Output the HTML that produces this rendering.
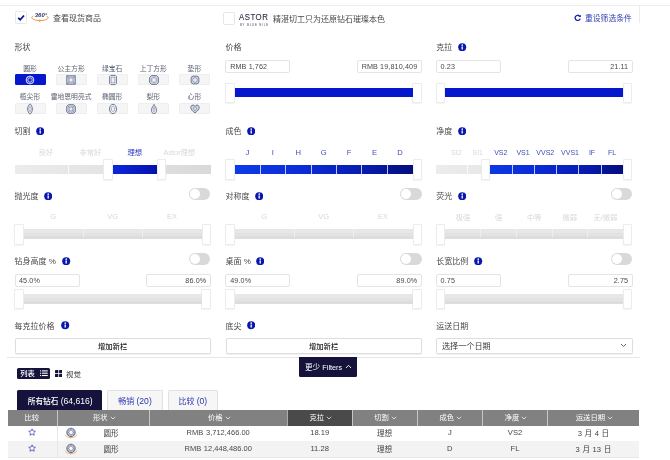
<!DOCTYPE html>
<html lang="zh-CN"><head><meta charset="utf-8"><title>钻石搜索</title>
<style>
html,body{margin:0;padding:0;background:#fff;}
body{width:670px;height:460px;overflow:hidden;position:relative;font-family:"Liberation Sans","Noto Sans CJK SC",sans-serif;}
.a,.t,div.inp{position:absolute;box-sizing:border-box;}
.t{white-space:nowrap;}
.h{width:9.2px;height:20.6px;background:#fff;border:0.6px solid #ececec;border-radius:1px;box-shadow:0 0.5px 1px rgba(0,0,0,0.05);}
.inp{height:13.1px;border:0.7px solid #e4e4e4;border-radius:2px;font-size:7.2px;line-height:11.8px;color:#484848;letter-spacing:0.12px;background:#fff;white-space:nowrap;}
.sb{position:absolute;width:31px;height:11.2px;background:#f5f5f5;border-radius:1px;border:0.6px solid #eeeeee;box-sizing:border-box;}
.sb svg{position:absolute;left:9.9px;top:0px;overflow:visible;}
</style></head><body>

<div class="a" style="left:0px;top:4.6px;width:670px;height:0.8px;background:#ececec"></div>
<div class="a" style="left:638.8px;top:5px;width:0.8px;height:17.5px;background:#ececec"></div>
<div class="a" style="left:15px;top:11.4px;width:12px;height:12.6px;border:0.7px solid #e8e8e8;border-radius:1.5px;background:#fff"><svg class="a" style="left:0.7px;top:1.8px" width="8.3" height="7.4" viewBox="0 0 9 8"><path d="M1.3 4.1 L3.5 6.2 L7.6 1.6" fill="none" stroke="#0a1098" stroke-width="1.9"/></svg></div>
<svg class="a" style="left:30px;top:11px" width="20" height="12" viewBox="0 0 20 12"><text x="11" y="6.2" font-size="6" font-weight="bold" font-style="italic" text-anchor="middle" fill="#2d3472" font-family="Liberation Sans, sans-serif">360°</text><path d="M3.4 5.1 C-0.6 6.8 3.6 9.6 10 9.6 C16.4 9.6 20.6 6.8 16.6 5.1" fill="none" stroke="#e8873a" stroke-width="0.9"/><path d="M9 8.6 L10.6 9.6 L9 10.6" fill="none" stroke="#e8873a" stroke-width="0.7"/></svg>
<div class="t" style="top:13.10px;line-height:12px;font-size:8px;color:#484848;left:53px;">查看现货商品</div>
<div class="a" style="left:223.2px;top:12.4px;width:11.8px;height:12.4px;border:0.7px solid #e6e6e6;border-radius:1.5px;background:#fff"></div>
<div class="t" style="top:10.90px;line-height:12px;font-size:9.2px;color:#2a2d44;left:239px;letter-spacing:0.6px;transform:scaleX(0.85);transform-origin:0 50%;-webkit-text-stroke:0.12px #2a2d44;">ASTOR</div>
<div class="t" style="top:19.10px;line-height:12px;font-size:2.8px;color:#3a3d55;left:154.4px;width:200px;text-align:center;letter-spacing:0.85px;">BY BLUE NILE</div>
<div class="t" style="top:14.10px;line-height:12px;font-size:8px;color:#484848;left:273px;">精湛切工只为还原钻石璀璨本色</div>
<svg class="a" style="left:573.9px;top:13.6px" width="7.8" height="7.8" viewBox="0 0 9 9"><path d="M7.2 5.3 A3 3 0 1 1 6.4 2.3" fill="none" stroke="#1423a8" stroke-width="1.5"/><path d="M5.2 3.6 L7.9 3.6 L7.9 0.9 Z" fill="#1423a8"/></svg>
<div class="t" style="top:13.10px;line-height:12px;font-size:7.8px;color:#3440b4;left:585px;">重设筛选条件</div>
<div class="t" style="top:42.10px;line-height:12px;font-size:8px;color:#484848;left:14.6px;">形状</div>
<div class="t" style="top:42.10px;line-height:12px;font-size:8px;color:#484848;left:225.6px;">价格</div>
<div class="t" style="top:42.10px;line-height:12px;font-size:8px;color:#484848;left:436.2px;">克拉</div>
<svg class="a" style="left:458.2px;top:42.7px" width="8.4" height="8.4" viewBox="0 0 9 9"><circle cx="4.5" cy="4.5" r="4.3" fill="#0a17ac"/><rect x="3.8" y="3.7" width="1.4" height="3.3" fill="#fff"/><circle cx="4.5" cy="2.3" r="0.85" fill="#fff"/></svg>
<div class="t" style="top:62.50px;line-height:12px;font-size:6.8px;color:#5c6070;left:-70.0px;width:200px;text-align:center;">圆形</div>
<div class="sb" style="left:14.5px;top:74.2px;background:#0618cc;border-color:#0618cc;"><svg width="10" height="10" viewBox="0 0 10 10" fill="none" stroke="#e8eaff" stroke-width="0.85"><circle cx="5" cy="5" r="3.9" fill="#3a48d8"/><circle cx="5" cy="5" r="2" fill="#2030d0" stroke-width="0.5"/><path d="M5 1.1 L5 3 M5 7 L5 8.9 M1.1 5 L3 5 M7 5 L8.9 5 M2.3 2.3 L3.6 3.6 M7.7 2.3 L6.4 3.6 M2.3 7.7 L3.6 6.4 M7.7 7.7 L6.4 6.4" stroke-width="0.45"/></svg></div>
<div class="t" style="top:62.50px;line-height:12px;font-size:6.8px;color:#5c6070;left:-28.900000000000006px;width:200px;text-align:center;">公主方形</div>
<div class="sb" style="left:55.6px;top:74.2px;"><svg width="10" height="10" viewBox="0 0 10 10" fill="none" stroke="#5c6684" stroke-width="0.85"><rect x="0.8" y="0.8" width="8.4" height="8.4" fill="#cdd2e0"/><rect x="3" y="3" width="4" height="4" fill="#eceef4" stroke-width="0.5"/><path d="M0.8 0.8 L3 3 M9.2 0.8 L7 3 M0.8 9.2 L3 7 M9.2 9.2 L7 7" stroke-width="0.5"/></svg></div>
<div class="t" style="top:62.50px;line-height:12px;font-size:6.8px;color:#5c6070;left:12.200000000000003px;width:200px;text-align:center;">绿宝石</div>
<div class="sb" style="left:96.7px;top:74.2px;"><svg width="10" height="10" viewBox="0 0 10 10" fill="none" stroke="#5c6684" stroke-width="0.85"><path d="M2.8 0.4 L7.2 0.4 L8.4 1.6 L8.4 8.4 L7.2 9.6 L2.8 9.6 L1.6 8.4 L1.6 1.6 Z" fill="#eceef4"/><rect x="3.1" y="2.1" width="3.8" height="5.8" stroke-width="0.4" fill="#eceef4"/></svg></div>
<div class="t" style="top:62.50px;line-height:12px;font-size:6.8px;color:#5c6070;left:53.30000000000001px;width:200px;text-align:center;">上丁方形</div>
<div class="sb" style="left:137.8px;top:74.2px;"><svg width="10" height="10" viewBox="0 0 10 10" fill="none" stroke="#5c6684" stroke-width="0.85"><path d="M2.4 0.6 L7.6 0.6 L9.4 2.4 L9.4 7.6 L7.6 9.4 L2.4 9.4 L0.6 7.6 L0.6 2.4 Z" fill="#cdd2e0"/><path d="M3.7 2.8 L6.3 2.8 L7.2 3.7 L7.2 6.3 L6.3 7.2 L3.7 7.2 L2.8 6.3 L2.8 3.7 Z" fill="#eceef4" stroke-width="0.5"/></svg></div>
<div class="t" style="top:62.50px;line-height:12px;font-size:6.8px;color:#5c6070;left:94.4px;width:200px;text-align:center;">垫形</div>
<div class="sb" style="left:178.9px;top:74.2px;"><svg width="10" height="10" viewBox="0 0 10 10" fill="none" stroke="#5c6684" stroke-width="0.85"><rect x="1.1" y="1.1" width="7.8" height="7.8" rx="2.4" fill="#cdd2e0"/><path d="M5 2.7 L6.6 3.4 L7.3 5 L6.6 6.6 L5 7.3 L3.4 6.6 L2.7 5 L3.4 3.4 Z" fill="#eceef4" stroke-width="0.5"/></svg></div>
<div class="t" style="top:91.30px;line-height:12px;font-size:6.8px;color:#5c6070;left:-70.0px;width:200px;text-align:center;">榄尖形</div>
<div class="sb" style="left:14.5px;top:102.6px;"><svg width="10" height="10" viewBox="0 0 10 10" fill="none" stroke="#5c6684" stroke-width="0.85"><path d="M5 -0.2 C8.2 2.6 8.2 7.4 5 10.2 C1.8 7.4 1.8 2.6 5 -0.2 Z" fill="#eceef4"/><path d="M5 2.2 L6.4 5 L5 7.8 L3.6 5 Z" stroke-width="0.4" fill="#eceef4"/></svg></div>
<div class="t" style="top:91.30px;line-height:12px;font-size:6.8px;color:#5c6070;left:-28.900000000000006px;width:200px;text-align:center;">雷地恩明亮式</div>
<div class="sb" style="left:55.6px;top:102.6px;"><svg width="10" height="10" viewBox="0 0 10 10" fill="none" stroke="#5c6684" stroke-width="0.85"><path d="M2.4 0.7 L7.6 0.7 L9.3 2.4 L9.3 7.6 L7.6 9.3 L2.4 9.3 L0.7 7.6 L0.7 2.4 Z" fill="#cdd2e0"/><rect x="3.1" y="3.1" width="3.8" height="3.8" fill="#eceef4" stroke-width="0.5"/><path d="M3.1 3.1 L1.6 1.6 M6.9 3.1 L8.4 1.6 M3.1 6.9 L1.6 8.4 M6.9 6.9 L8.4 8.4" stroke-width="0.5"/></svg></div>
<div class="t" style="top:91.30px;line-height:12px;font-size:6.8px;color:#5c6070;left:12.200000000000003px;width:200px;text-align:center;">椭圆形</div>
<div class="sb" style="left:96.7px;top:102.6px;"><svg width="10" height="10" viewBox="0 0 10 10" fill="none" stroke="#5c6684" stroke-width="0.85"><ellipse cx="5" cy="5" rx="3.5" ry="4.7" fill="#eceef4"/><path d="M5 2.1 L6.6 3.6 L6.6 6.4 L5 7.9 L3.4 6.4 L3.4 3.6 Z" stroke-width="0.4" fill="#eceef4"/></svg></div>
<div class="t" style="top:91.30px;line-height:12px;font-size:6.8px;color:#5c6070;left:53.30000000000001px;width:200px;text-align:center;">梨形</div>
<div class="sb" style="left:137.8px;top:102.6px;"><svg width="10" height="10" viewBox="0 0 10 10" fill="none" stroke="#5c6684" stroke-width="0.85"><path d="M5 0.4 C6 2.2 7.6 4.2 7.6 6.4 C7.6 8.3 6.4 9.6 5 9.6 C3.6 9.6 2.4 8.3 2.4 6.4 C2.4 4.2 4 2.2 5 0.4 Z" fill="#eceef4"/><path d="M5 3 L6.1 6 L5 8 L3.9 6 Z" stroke-width="0.4" fill="#eceef4"/></svg></div>
<div class="t" style="top:91.30px;line-height:12px;font-size:6.8px;color:#5c6070;left:94.4px;width:200px;text-align:center;">心形</div>
<div class="sb" style="left:178.9px;top:102.6px;"><svg width="10" height="10" viewBox="0 0 10 10" fill="none" stroke="#5c6684" stroke-width="0.85"><path d="M5 9 C2.3 6.9 0.8 5.2 0.8 3.5 C0.8 2 1.8 1.1 3 1.1 C3.9 1.1 4.6 1.6 5 2.4 C5.4 1.6 6.1 1.1 7 1.1 C8.2 1.1 9.2 2 9.2 3.5 C9.2 5.2 7.7 6.9 5 9 Z" fill="#cdd2e0"/><path d="M5 3.6 L6.8 4 L5 7 L3.2 4 Z" stroke-width="0.45" fill="#eceef4"/></svg></div>
<div class="a inp" style="left:225.2px;top:60.1px;width:65px;padding-left:4px;">RMB 1,762</div>
<div class="a inp" style="left:356.6px;top:60.1px;width:65px;padding-right:3.3px;text-align:right;">RMB 19,810,409</div>
<div class="a h" style="left:225.4px;top:82.8px;"></div>
<div class="a h" style="left:412.40000000000003px;top:82.8px;"></div>
<div class="a" style="left:234.6px;top:88.0px;width:178px;height:9.1px;background:#0618cc;"></div>
<div class="a inp" style="left:436.2px;top:60.1px;width:64.5px;padding-left:3.4px;">0.23</div>
<div class="a inp" style="left:568px;top:60.1px;width:64.5px;padding-right:3.3px;text-align:right;">21.11</div>
<div class="a h" style="left:436.0px;top:82.8px;"></div>
<div class="a h" style="left:623.0px;top:82.8px;"></div>
<div class="a" style="left:445.2px;top:88.0px;width:178px;height:9.1px;background:#0618cc;"></div>
<div class="t" style="top:126.40px;line-height:12px;font-size:8px;color:#484848;left:14.6px;">切割</div>
<svg class="a" style="left:35.7px;top:127.0px" width="8.4" height="8.4" viewBox="0 0 9 9"><circle cx="4.5" cy="4.5" r="4.3" fill="#0a17ac"/><rect x="3.8" y="3.7" width="1.4" height="3.3" fill="#fff"/><circle cx="4.5" cy="2.3" r="0.85" fill="#fff"/></svg>
<div class="t" style="top:126.40px;line-height:12px;font-size:8px;color:#484848;left:225.6px;">成色</div>
<svg class="a" style="left:246.7px;top:127.0px" width="8.4" height="8.4" viewBox="0 0 9 9"><circle cx="4.5" cy="4.5" r="4.3" fill="#0a17ac"/><rect x="3.8" y="3.7" width="1.4" height="3.3" fill="#fff"/><circle cx="4.5" cy="2.3" r="0.85" fill="#fff"/></svg>
<div class="t" style="top:126.40px;line-height:12px;font-size:8px;color:#484848;left:436.2px;">净度</div>
<svg class="a" style="left:457.7px;top:127.0px" width="8.4" height="8.4" viewBox="0 0 9 9"><circle cx="4.5" cy="4.5" r="4.3" fill="#0a17ac"/><rect x="3.8" y="3.7" width="1.4" height="3.3" fill="#fff"/><circle cx="4.5" cy="2.3" r="0.85" fill="#fff"/></svg>
<div class="t" style="top:147.10px;line-height:12px;font-size:7.3px;color:#d8d8d8;left:-54.15px;width:200px;text-align:center;">良好</div>
<div class="t" style="top:147.10px;line-height:12px;font-size:7.3px;color:#d8d8d8;left:-9.650000000000006px;width:200px;text-align:center;">非常好</div>
<div class="t" style="top:147.10px;line-height:12px;font-size:7.3px;color:#2c38bc;left:34.849999999999994px;width:200px;text-align:center;">理想</div>
<div class="t" style="top:147.10px;line-height:12px;font-size:7.3px;color:#d8d8d8;left:79.35px;width:200px;text-align:center;">Astor理想</div>
<div class="a" style="left:14.6px;top:164.5px;width:196px;height:9.1px;background:linear-gradient(90deg,#ececec,#d9d9d9);"></div>
<div class="a" style="left:112.60px;top:164.5px;width:44.50px;height:9.1px;background:linear-gradient(90deg,#0a26dc,#0513ac);"></div>
<div class="a" style="left:67.75px;top:164.5px;width:0.7px;height:9.1px;background:rgba(255,255,255,0.75);"></div>
<div class="a" style="left:112.25px;top:164.5px;width:0.7px;height:9.1px;background:rgba(255,255,255,0.75);"></div>
<div class="a" style="left:156.75px;top:164.5px;width:0.7px;height:9.1px;background:rgba(255,255,255,0.75);"></div>
<div class="a h" style="left:103.39999999999999px;top:159.3px;"></div>
<div class="a h" style="left:157.1px;top:159.3px;"></div>
<div class="t" style="top:146.50px;line-height:12px;font-size:7.6px;color:#414cb8;left:147.31428571428572px;width:200px;text-align:center;">J</div>
<div class="t" style="top:146.50px;line-height:12px;font-size:7.6px;color:#414cb8;left:172.74285714285713px;width:200px;text-align:center;">I</div>
<div class="t" style="top:146.50px;line-height:12px;font-size:7.6px;color:#414cb8;left:198.17142857142858px;width:200px;text-align:center;">H</div>
<div class="t" style="top:146.50px;line-height:12px;font-size:7.6px;color:#414cb8;left:223.60000000000002px;width:200px;text-align:center;">G</div>
<div class="t" style="top:146.50px;line-height:12px;font-size:7.6px;color:#414cb8;left:249.0285714285714px;width:200px;text-align:center;">F</div>
<div class="t" style="top:146.50px;line-height:12px;font-size:7.6px;color:#414cb8;left:274.45714285714286px;width:200px;text-align:center;">E</div>
<div class="t" style="top:146.50px;line-height:12px;font-size:7.6px;color:#414cb8;left:299.88571428571424px;width:200px;text-align:center;">D</div>
<div class="a" style="left:225.6px;top:164.5px;width:196px;height:9.1px;background:linear-gradient(90deg,#ececec,#d9d9d9);"></div>
<div class="a" style="left:234.60px;top:164.5px;width:178.00px;height:9.1px;background:linear-gradient(90deg,#0c3ce8,#0a2cd8 38%,#0719aa 76%,#040e7c);"></div>
<div class="a" style="left:259.68px;top:164.5px;width:0.7px;height:9.1px;background:rgba(255,255,255,0.75);"></div>
<div class="a" style="left:285.11px;top:164.5px;width:0.7px;height:9.1px;background:rgba(255,255,255,0.75);"></div>
<div class="a" style="left:310.54px;top:164.5px;width:0.7px;height:9.1px;background:rgba(255,255,255,0.75);"></div>
<div class="a" style="left:335.96px;top:164.5px;width:0.7px;height:9.1px;background:rgba(255,255,255,0.75);"></div>
<div class="a" style="left:361.39px;top:164.5px;width:0.7px;height:9.1px;background:rgba(255,255,255,0.75);"></div>
<div class="a" style="left:386.82px;top:164.5px;width:0.7px;height:9.1px;background:rgba(255,255,255,0.75);"></div>
<div class="a h" style="left:225.4px;top:159.3px;"></div>
<div class="a h" style="left:412.6px;top:159.3px;"></div>
<div class="t" style="top:146.50px;line-height:12px;font-size:7px;color:#d8d8d8;left:356.325px;width:200px;text-align:center;">SI2</div>
<div class="t" style="top:146.50px;line-height:12px;font-size:7px;color:#d8d8d8;left:377.775px;width:200px;text-align:center;">SI1</div>
<div class="t" style="top:146.50px;line-height:12px;font-size:7px;color:#414cb8;left:400.825px;width:200px;text-align:center;">VS2</div>
<div class="t" style="top:146.50px;line-height:12px;font-size:7px;color:#414cb8;left:423.07500000000005px;width:200px;text-align:center;">VS1</div>
<div class="t" style="top:146.50px;line-height:12px;font-size:7px;color:#414cb8;left:445.32500000000005px;width:200px;text-align:center;">VVS2</div>
<div class="t" style="top:146.50px;line-height:12px;font-size:7px;color:#414cb8;left:470.07500000000005px;width:200px;text-align:center;">VVS1</div>
<div class="t" style="top:146.50px;line-height:12px;font-size:7px;color:#414cb8;left:492.0250000000001px;width:200px;text-align:center;">IF</div>
<div class="t" style="top:146.50px;line-height:12px;font-size:7px;color:#414cb8;left:512.075px;width:200px;text-align:center;">FL</div>
<div class="a" style="left:436.2px;top:164.5px;width:196px;height:9.1px;background:linear-gradient(90deg,#ececec,#d9d9d9);"></div>
<div class="a" style="left:489.70px;top:164.5px;width:133.50px;height:9.1px;background:linear-gradient(90deg,#0c38e6,#0a2ad4 38%,#0719aa 76%,#040e7c);"></div>
<div class="a" style="left:467.10px;top:164.5px;width:0.7px;height:9.1px;background:rgba(255,255,255,0.75);"></div>
<div class="a" style="left:489.35px;top:164.5px;width:0.7px;height:9.1px;background:rgba(255,255,255,0.75);"></div>
<div class="a" style="left:511.60px;top:164.5px;width:0.7px;height:9.1px;background:rgba(255,255,255,0.75);"></div>
<div class="a" style="left:533.85px;top:164.5px;width:0.7px;height:9.1px;background:rgba(255,255,255,0.75);"></div>
<div class="a" style="left:556.10px;top:164.5px;width:0.7px;height:9.1px;background:rgba(255,255,255,0.75);"></div>
<div class="a" style="left:578.35px;top:164.5px;width:0.7px;height:9.1px;background:rgba(255,255,255,0.75);"></div>
<div class="a" style="left:600.60px;top:164.5px;width:0.7px;height:9.1px;background:rgba(255,255,255,0.75);"></div>
<div class="a h" style="left:480.5px;top:159.3px;"></div>
<div class="a h" style="left:623.2px;top:159.3px;"></div>
<div class="t" style="top:191.30px;line-height:12px;font-size:8px;color:#484848;left:14.6px;">抛光度</div>
<svg class="a" style="left:44.0px;top:191.9px" width="8.4" height="8.4" viewBox="0 0 9 9"><circle cx="4.5" cy="4.5" r="4.3" fill="#0a17ac"/><rect x="3.8" y="3.7" width="1.4" height="3.3" fill="#fff"/><circle cx="4.5" cy="2.3" r="0.85" fill="#fff"/></svg>
<div class="a" style="left:188.8px;top:188px;width:21.5px;height:12px;border-radius:6px;background:#d9d9d9;"><div class="a" style="left:1px;top:1px;width:10px;height:10px;border-radius:5px;background:#fff"></div></div>
<div class="t" style="top:191.30px;line-height:12px;font-size:8px;color:#484848;left:225.6px;">对称度</div>
<svg class="a" style="left:255.0px;top:191.9px" width="8.4" height="8.4" viewBox="0 0 9 9"><circle cx="4.5" cy="4.5" r="4.3" fill="#0a17ac"/><rect x="3.8" y="3.7" width="1.4" height="3.3" fill="#fff"/><circle cx="4.5" cy="2.3" r="0.85" fill="#fff"/></svg>
<div class="a" style="left:400px;top:188px;width:21.5px;height:12px;border-radius:6px;background:#d9d9d9;"><div class="a" style="left:1px;top:1px;width:10px;height:10px;border-radius:5px;background:#fff"></div></div>
<div class="t" style="top:191.30px;line-height:12px;font-size:8px;color:#484848;left:436.2px;">荧光</div>
<svg class="a" style="left:457.7px;top:191.9px" width="8.4" height="8.4" viewBox="0 0 9 9"><circle cx="4.5" cy="4.5" r="4.3" fill="#0a17ac"/><rect x="3.8" y="3.7" width="1.4" height="3.3" fill="#fff"/><circle cx="4.5" cy="2.3" r="0.85" fill="#fff"/></svg>
<div class="a" style="left:610.5px;top:188px;width:21.5px;height:12px;border-radius:6px;background:#d9d9d9;"><div class="a" style="left:1px;top:1px;width:10px;height:10px;border-radius:5px;background:#fff"></div></div>
<div class="t" style="top:211.30px;line-height:12px;font-size:7.5px;color:#d8d8d8;left:-46.733333333333334px;width:200px;text-align:center;">G</div>
<div class="t" style="top:211.30px;line-height:12px;font-size:7.5px;color:#d8d8d8;left:12.599999999999994px;width:200px;text-align:center;">VG</div>
<div class="t" style="top:211.30px;line-height:12px;font-size:7.5px;color:#d8d8d8;left:71.93333333333334px;width:200px;text-align:center;">EX</div>
<div class="t" style="top:211.30px;line-height:12px;font-size:7.5px;color:#d8d8d8;left:164.26666666666665px;width:200px;text-align:center;">G</div>
<div class="t" style="top:211.30px;line-height:12px;font-size:7.5px;color:#d8d8d8;left:223.60000000000002px;width:200px;text-align:center;">VG</div>
<div class="t" style="top:211.30px;line-height:12px;font-size:7.5px;color:#d8d8d8;left:282.93333333333334px;width:200px;text-align:center;">EX</div>
<div class="t" style="top:211.90px;line-height:12px;font-size:7.3px;color:#d8d8d8;left:363.0px;width:200px;text-align:center;">极强</div>
<div class="t" style="top:211.90px;line-height:12px;font-size:7.3px;color:#d8d8d8;left:398.6px;width:200px;text-align:center;">强</div>
<div class="t" style="top:211.90px;line-height:12px;font-size:7.3px;color:#d8d8d8;left:434.20000000000005px;width:200px;text-align:center;">中等</div>
<div class="t" style="top:211.90px;line-height:12px;font-size:7.3px;color:#d8d8d8;left:469.79999999999995px;width:200px;text-align:center;">微弱</div>
<div class="t" style="top:211.90px;line-height:12px;font-size:7.3px;color:#d8d8d8;left:505.4px;width:200px;text-align:center;">无/微弱</div>
<div class="a" style="left:14.6px;top:229.2px;width:196px;height:9.6px;background:linear-gradient(#e7e7e7 0 30%,#e8e8e8 30% 38%,#e2e2e2 38% 64%,#e4e4e4 64% 72%,#dddddd 72%);"></div>
<div class="a" style="left:82.58px;top:229.2px;width:0.7px;height:9.1px;background:rgba(255,255,255,0.4);"></div>
<div class="a" style="left:141.92px;top:229.2px;width:0.7px;height:9.1px;background:rgba(255,255,255,0.4);"></div>
<div class="a h" style="left:14.400000000000002px;top:224px;"></div>
<div class="a h" style="left:201.6px;top:224px;"></div>
<div class="a" style="left:225.6px;top:229.2px;width:196px;height:9.6px;background:linear-gradient(#e7e7e7 0 30%,#e8e8e8 30% 38%,#e2e2e2 38% 64%,#e4e4e4 64% 72%,#dddddd 72%);"></div>
<div class="a" style="left:293.58px;top:229.2px;width:0.7px;height:9.1px;background:rgba(255,255,255,0.4);"></div>
<div class="a" style="left:352.92px;top:229.2px;width:0.7px;height:9.1px;background:rgba(255,255,255,0.4);"></div>
<div class="a h" style="left:225.4px;top:224px;"></div>
<div class="a h" style="left:412.6px;top:224px;"></div>
<div class="a" style="left:436.2px;top:229.2px;width:196px;height:9.6px;background:linear-gradient(#e7e7e7 0 30%,#e8e8e8 30% 38%,#e2e2e2 38% 64%,#e4e4e4 64% 72%,#dddddd 72%);"></div>
<div class="a" style="left:480.45px;top:229.2px;width:0.7px;height:9.1px;background:rgba(255,255,255,0.4);"></div>
<div class="a" style="left:516.05px;top:229.2px;width:0.7px;height:9.1px;background:rgba(255,255,255,0.4);"></div>
<div class="a" style="left:551.65px;top:229.2px;width:0.7px;height:9.1px;background:rgba(255,255,255,0.4);"></div>
<div class="a" style="left:587.25px;top:229.2px;width:0.7px;height:9.1px;background:rgba(255,255,255,0.4);"></div>
<div class="a h" style="left:436.0px;top:224px;"></div>
<div class="a h" style="left:623.2px;top:224px;"></div>
<div class="t" style="top:256.30px;line-height:12px;font-size:8px;color:#484848;left:14.6px;">钻身高度 %</div>
<svg class="a" style="left:62.3px;top:256.9px" width="8.4" height="8.4" viewBox="0 0 9 9"><circle cx="4.5" cy="4.5" r="4.3" fill="#0a17ac"/><rect x="3.8" y="3.7" width="1.4" height="3.3" fill="#fff"/><circle cx="4.5" cy="2.3" r="0.85" fill="#fff"/></svg>
<div class="a" style="left:188.8px;top:253px;width:21.5px;height:12px;border-radius:6px;background:#d9d9d9;"><div class="a" style="left:1px;top:1px;width:10px;height:10px;border-radius:5px;background:#fff"></div></div>
<div class="t" style="top:256.30px;line-height:12px;font-size:8px;color:#484848;left:225.6px;">桌面 %</div>
<svg class="a" style="left:256.0px;top:256.9px" width="8.4" height="8.4" viewBox="0 0 9 9"><circle cx="4.5" cy="4.5" r="4.3" fill="#0a17ac"/><rect x="3.8" y="3.7" width="1.4" height="3.3" fill="#fff"/><circle cx="4.5" cy="2.3" r="0.85" fill="#fff"/></svg>
<div class="a" style="left:400px;top:253px;width:21.5px;height:12px;border-radius:6px;background:#d9d9d9;"><div class="a" style="left:1px;top:1px;width:10px;height:10px;border-radius:5px;background:#fff"></div></div>
<div class="t" style="top:256.30px;line-height:12px;font-size:8px;color:#484848;left:436.2px;">长宽比例</div>
<svg class="a" style="left:474.2px;top:256.9px" width="8.4" height="8.4" viewBox="0 0 9 9"><circle cx="4.5" cy="4.5" r="4.3" fill="#0a17ac"/><rect x="3.8" y="3.7" width="1.4" height="3.3" fill="#fff"/><circle cx="4.5" cy="2.3" r="0.85" fill="#fff"/></svg>
<div class="a" style="left:610.5px;top:253px;width:21.5px;height:12px;border-radius:6px;background:#d9d9d9;"><div class="a" style="left:1px;top:1px;width:10px;height:10px;border-radius:5px;background:#fff"></div></div>
<div class="a inp" style="left:14.6px;top:273.5px;width:65px;padding-left:3.4px;">45.0%</div>
<div class="a inp" style="left:145.6px;top:273.5px;width:65px;padding-right:3.3px;text-align:right;">86.0%</div>
<div class="a inp" style="left:225.2px;top:273.5px;width:65px;padding-left:4px;">49.0%</div>
<div class="a inp" style="left:356.6px;top:273.5px;width:65px;padding-right:3.3px;text-align:right;">89.0%</div>
<div class="a inp" style="left:436.2px;top:273.5px;width:64.5px;padding-left:3.4px;">0.75</div>
<div class="a inp" style="left:568px;top:273.5px;width:64.5px;padding-right:3.3px;text-align:right;">2.75</div>
<div class="a h" style="left:14.4px;top:288.8px;"></div>
<div class="a h" style="left:201.4px;top:288.8px;"></div>
<div class="a" style="left:23.6px;top:294.0px;width:178px;height:9.6px;background:linear-gradient(#e7e7e7 0 30%,#e8e8e8 30% 38%,#e2e2e2 38% 64%,#e4e4e4 64% 72%,#dddddd 72%);"></div>
<div class="a h" style="left:225.4px;top:288.8px;"></div>
<div class="a h" style="left:412.40000000000003px;top:288.8px;"></div>
<div class="a" style="left:234.6px;top:294.0px;width:178px;height:9.6px;background:linear-gradient(#e7e7e7 0 30%,#e8e8e8 30% 38%,#e2e2e2 38% 64%,#e4e4e4 64% 72%,#dddddd 72%);"></div>
<div class="a h" style="left:436.0px;top:288.8px;"></div>
<div class="a h" style="left:623.0px;top:288.8px;"></div>
<div class="a" style="left:445.2px;top:294.0px;width:178px;height:9.6px;background:linear-gradient(#e7e7e7 0 30%,#e8e8e8 30% 38%,#e2e2e2 38% 64%,#e4e4e4 64% 72%,#dddddd 72%);"></div>
<div class="t" style="top:320.70px;line-height:12px;font-size:8px;color:#484848;left:14.6px;">每克拉价格</div>
<svg class="a" style="left:61.2px;top:321.3px" width="8.4" height="8.4" viewBox="0 0 9 9"><circle cx="4.5" cy="4.5" r="4.3" fill="#0a17ac"/><rect x="3.8" y="3.7" width="1.4" height="3.3" fill="#fff"/><circle cx="4.5" cy="2.3" r="0.85" fill="#fff"/></svg>
<div class="t" style="top:320.70px;line-height:12px;font-size:8px;color:#484848;left:225.6px;">底尖</div>
<svg class="a" style="left:246.7px;top:321.3px" width="8.4" height="8.4" viewBox="0 0 9 9"><circle cx="4.5" cy="4.5" r="4.3" fill="#0a17ac"/><rect x="3.8" y="3.7" width="1.4" height="3.3" fill="#fff"/><circle cx="4.5" cy="2.3" r="0.85" fill="#fff"/></svg>
<div class="t" style="top:320.70px;line-height:12px;font-size:8px;color:#484848;left:436.2px;">运送日期</div>
<div class="a" style="left:14.6px;top:338.4px;width:196px;height:15.4px;border:0.7px solid #dedede;border-radius:1.5px;background:#fff;box-shadow:0 0.5px 1px rgba(0,0,0,0.06)"></div>
<div class="t" style="top:341.30px;line-height:12px;font-size:7.3px;color:#222;left:12.599999999999994px;width:200px;text-align:center;font-weight:500;">增加新栏</div>
<div class="a" style="left:225.6px;top:338.4px;width:196px;height:15.4px;border:0.7px solid #dedede;border-radius:1.5px;background:#fff;box-shadow:0 0.5px 1px rgba(0,0,0,0.06)"></div>
<div class="t" style="top:341.30px;line-height:12px;font-size:7.3px;color:#222;left:223.60000000000002px;width:200px;text-align:center;font-weight:500;">增加新栏</div>
<div class="a" style="left:436.2px;top:338.4px;width:196.5px;height:15.4px;border:0.7px solid #dedede;border-radius:1.5px;background:#fff;box-shadow:0 0.5px 1px rgba(0,0,0,0.06)"></div>
<div class="t" style="top:341.30px;line-height:12px;font-size:8.1px;color:#3a3a3a;left:442px;">选择一个日期</div>
<svg class="a" style="left:620px;top:343px" width="7" height="5" viewBox="0 0 7 5"><path d="M1 1 L3.5 3.6 L6 1" fill="none" stroke="#555" stroke-width="0.9"/></svg>
<div class="a" style="left:7px;top:357px;width:633px;height:0.8px;background:#e6e6e6"></div>
<div class="a" style="left:298.6px;top:357px;width:58.4px;height:20.3px;background:#15133c;border-radius:0 0 1.5px 1.5px"></div>
<div class="t" style="top:361.70px;line-height:12px;font-size:7.6px;color:#fff;left:305px;">更少 <span style="font-size:7.3px">Filters</span></div>
<svg class="a" style="left:344.5px;top:364.4px" width="7" height="5" viewBox="0 0 7 5"><path d="M1 4 L3.5 1.3 L6 4" fill="none" stroke="#fff" stroke-width="0.9"/></svg>
<div class="a" style="left:17.2px;top:368.2px;width:33.2px;height:10.4px;background:#15133c;border-radius:1.5px"></div>
<div class="t" style="top:367.80px;line-height:12px;font-size:7.3px;color:#fff;left:20.2px;font-weight:500;">列表</div>
<svg class="a" style="left:39.6px;top:370.4px" width="8" height="6.4" viewBox="0 0 9 7" fill="#fff"><rect x="0" y="0.3" width="1.2" height="1.2"/><rect x="2.2" y="0.3" width="6.5" height="1.2"/><rect x="0" y="2.9" width="1.2" height="1.2"/><rect x="2.2" y="2.9" width="6.5" height="1.2"/><rect x="0" y="5.5" width="1.2" height="1.2"/><rect x="2.2" y="5.5" width="6.5" height="1.2"/></svg>
<svg class="a" style="left:54.7px;top:370px" width="7.6" height="7.6" viewBox="0 0 8 8" fill="#15133c"><rect x="0" y="0" width="3.5" height="3.3" rx="0.4"/><rect x="4.3" y="0" width="3.5" height="3.3" rx="0.4"/><rect x="0" y="4.2" width="3.5" height="3.3" rx="0.4"/><rect x="4.3" y="4.2" width="3.5" height="3.3" rx="0.4"/></svg>
<div class="t" style="top:368.90px;line-height:12px;font-size:7.4px;color:#333;left:66px;">视觉</div>
<div class="a" style="left:17.2px;top:390.4px;width:85.2px;height:19.4px;background:#15133c;border-radius:1.5px 1.5px 0 0"></div>
<div class="t" style="top:395.40px;line-height:12px;font-size:8px;color:#fff;left:-39.8px;width:200px;text-align:center;"><span style="font-size:7.7px;font-weight:500">所有钻石</span> <span style="font-size:8.6px">(64,616)</span></div>
<div class="a" style="left:107.2px;top:390.4px;width:55.4px;height:19.4px;background:#f6f6f6;border:0.7px solid #e2e2e2;border-bottom:none;border-radius:1.5px 1.5px 0 0"></div>
<div class="t" style="top:395.40px;line-height:12px;font-size:8px;color:#2a35b0;left:35px;width:200px;text-align:center;">畅销 <span style="font-size:8.6px">(20)</span></div>
<div class="a" style="left:168px;top:390.4px;width:50.4px;height:19.4px;background:#f6f6f6;border:0.7px solid #e2e2e2;border-bottom:none;border-radius:1.5px 1.5px 0 0"></div>
<div class="t" style="top:395.40px;line-height:12px;font-size:8px;color:#2a35b0;left:92.80000000000001px;width:200px;text-align:center;">比较 <span style="font-size:8.6px">(0)</span></div>
<div class="a" style="left:7.8px;top:409.6px;width:631.4000000000001px;height:16px;background:#818181"></div>
<div class="a" style="left:287.4px;top:409.6px;width:64.60000000000002px;height:16px;background:#4a4a4a"></div>
<div class="a" style="left:56.949999999999996px;top:409.6px;width:0.7px;height:16px;background:rgba(255,255,255,0.55)"></div>
<div class="a" style="left:148.95000000000002px;top:409.6px;width:0.7px;height:16px;background:rgba(255,255,255,0.55)"></div>
<div class="a" style="left:287.04999999999995px;top:409.6px;width:0.7px;height:16px;background:rgba(255,255,255,0.55)"></div>
<div class="a" style="left:351.65px;top:409.6px;width:0.7px;height:16px;background:rgba(255,255,255,0.55)"></div>
<div class="a" style="left:416.84999999999997px;top:409.6px;width:0.7px;height:16px;background:rgba(255,255,255,0.55)"></div>
<div class="a" style="left:482.04999999999995px;top:409.6px;width:0.7px;height:16px;background:rgba(255,255,255,0.55)"></div>
<div class="a" style="left:547.25px;top:409.6px;width:0.7px;height:16px;background:rgba(255,255,255,0.55)"></div>
<div class="t" style="top:412.00px;line-height:12px;font-size:7.3px;color:#fff;left:-68.25px;width:200px;text-align:center;">比较</div>
<div class="t" style="top:412.00px;line-height:12px;font-size:7.3px;color:#fff;left:0.30000000000001137px;width:200px;text-align:center;">形状</div>
<svg class="a" style="left:109.70000000000002px;top:415.8px" width="6" height="4" viewBox="0 0 6 4"><path d="M0.8 0.8 L3 3 L5.2 0.8" fill="none" stroke="#fff" stroke-width="0.7"/></svg>
<div class="t" style="top:412.00px;line-height:12px;font-size:7.3px;color:#fff;left:115.35px;width:200px;text-align:center;">价格</div>
<svg class="a" style="left:224.75px;top:415.8px" width="6" height="4" viewBox="0 0 6 4"><path d="M0.8 0.8 L3 3 L5.2 0.8" fill="none" stroke="#fff" stroke-width="0.7"/></svg>
<div class="t" style="top:412.00px;line-height:12px;font-size:7.3px;color:#fff;left:216.7px;width:200px;text-align:center;">克拉</div>
<svg class="a" style="left:326.09999999999997px;top:415.8px" width="6" height="4" viewBox="0 0 6 4"><path d="M0.8 0.8 L3 3 L5.2 0.8" fill="none" stroke="#fff" stroke-width="0.7"/></svg>
<div class="t" style="top:412.00px;line-height:12px;font-size:7.3px;color:#fff;left:281.6px;width:200px;text-align:center;">切割</div>
<svg class="a" style="left:391.0px;top:415.8px" width="6" height="4" viewBox="0 0 6 4"><path d="M0.8 0.8 L3 3 L5.2 0.8" fill="none" stroke="#fff" stroke-width="0.7"/></svg>
<div class="t" style="top:412.00px;line-height:12px;font-size:7.3px;color:#fff;left:346.79999999999995px;width:200px;text-align:center;">成色</div>
<svg class="a" style="left:456.19999999999993px;top:415.8px" width="6" height="4" viewBox="0 0 6 4"><path d="M0.8 0.8 L3 3 L5.2 0.8" fill="none" stroke="#fff" stroke-width="0.7"/></svg>
<div class="t" style="top:412.00px;line-height:12px;font-size:7.3px;color:#fff;left:412.0px;width:200px;text-align:center;">净度</div>
<svg class="a" style="left:521.4px;top:415.8px" width="6" height="4" viewBox="0 0 6 4"><path d="M0.8 0.8 L3 3 L5.2 0.8" fill="none" stroke="#fff" stroke-width="0.7"/></svg>
<div class="t" style="top:412.00px;line-height:12px;font-size:7.3px;color:#fff;left:490.4000000000001px;width:200px;text-align:center;">运送日期</div>
<svg class="a" style="left:607.2px;top:415.8px" width="6" height="4" viewBox="0 0 6 4"><path d="M0.8 0.8 L3 3 L5.2 0.8" fill="none" stroke="#fff" stroke-width="0.7"/></svg>
<div class="a" style="left:7.8px;top:441.3px;width:631.4000000000001px;height:15.4px;background:#f3f3f3"></div>
<div class="a" style="left:7.8px;top:456.6px;width:631.4000000000001px;height:0.7px;background:#e6e6e6"></div>
<div class="a" style="left:56.949999999999996px;top:425.6px;width:0.7px;height:31px;background:#e6e6e6"></div>
<svg class="a" style="left:28.0px;top:428.2px" width="8.2" height="8.2" viewBox="0 0 9 9"><path d="M4.5 0.9 L5.6 3.3 L8.2 3.6 L6.3 5.4 L6.8 8 L4.5 6.7 L2.2 8 L2.7 5.4 L0.8 3.6 L3.4 3.3 Z" fill="none" stroke="#3843b8" stroke-width="0.8" stroke-linejoin="round"/></svg>
<svg class="a" style="left:63.7px;top:426.9px" width="14" height="13" viewBox="0 0 14 13"><path d="M2 7.4 C0.6 9 3.6 10.6 7 10.6 C10.4 10.6 13.4 9 12 7.4" fill="none" stroke="#eda268" stroke-width="0.8"/><path d="M6.2 9.7 L7.6 10.6 L6.2 11.5" fill="none" stroke="#eda268" stroke-width="0.7"/><circle cx="7" cy="5.4" r="4.2" fill="#c0c6d8" stroke="#58627f" stroke-width="0.9"/><path d="M7 1.2 L7 9.6 M2.8 5.4 L11.2 5.4 M4 2.4 L10 8.4 M10 2.4 L4 8.4" stroke="#6d7694" stroke-width="0.5"/><circle cx="7" cy="5.4" r="2.1" fill="#fbfbfd" stroke="#6d7694" stroke-width="0.5"/></svg>
<div class="t" style="top:427.60px;line-height:12px;font-size:7.6px;color:#444;left:11px;width:200px;text-align:center;">圆形</div>
<div class="t" style="top:427.00px;line-height:12px;font-size:7.5px;color:#484848;left:118.19999999999999px;width:200px;text-align:center;word-spacing:0.6px;">RMB 3,712,466.00</div>
<div class="t" style="top:427.00px;line-height:12px;font-size:7.6px;color:#444;left:219.7px;width:200px;text-align:center;word-spacing:0.5px;">18.19</div>
<div class="t" style="top:427.60px;line-height:12px;font-size:7.6px;color:#444;left:284.6px;width:200px;text-align:center;word-spacing:0.5px;">理想</div>
<div class="t" style="top:427.00px;line-height:12px;font-size:7.6px;color:#444;left:349.79999999999995px;width:200px;text-align:center;word-spacing:0.5px;">J</div>
<div class="t" style="top:427.00px;line-height:12px;font-size:7.6px;color:#444;left:415.0px;width:200px;text-align:center;word-spacing:0.5px;">VS2</div>
<div class="t" style="top:427.60px;line-height:12px;font-size:7.6px;color:#444;left:493.4000000000001px;width:200px;text-align:center;word-spacing:0.5px;">3 月 4 日</div>
<svg class="a" style="left:28.0px;top:444.3px" width="8.2" height="8.2" viewBox="0 0 9 9"><path d="M4.5 0.9 L5.6 3.3 L8.2 3.6 L6.3 5.4 L6.8 8 L4.5 6.7 L2.2 8 L2.7 5.4 L0.8 3.6 L3.4 3.3 Z" fill="none" stroke="#3843b8" stroke-width="0.8" stroke-linejoin="round"/></svg>
<svg class="a" style="left:63.7px;top:443.0px" width="14" height="13" viewBox="0 0 14 13"><path d="M2 7.4 C0.6 9 3.6 10.6 7 10.6 C10.4 10.6 13.4 9 12 7.4" fill="none" stroke="#eda268" stroke-width="0.8"/><path d="M6.2 9.7 L7.6 10.6 L6.2 11.5" fill="none" stroke="#eda268" stroke-width="0.7"/><circle cx="7" cy="5.4" r="4.2" fill="#c0c6d8" stroke="#58627f" stroke-width="0.9"/><path d="M7 1.2 L7 9.6 M2.8 5.4 L11.2 5.4 M4 2.4 L10 8.4 M10 2.4 L4 8.4" stroke="#6d7694" stroke-width="0.5"/><circle cx="7" cy="5.4" r="2.1" fill="#fbfbfd" stroke="#6d7694" stroke-width="0.5"/></svg>
<div class="t" style="top:443.70px;line-height:12px;font-size:7.6px;color:#444;left:11px;width:200px;text-align:center;">圆形</div>
<div class="t" style="top:443.10px;line-height:12px;font-size:7.5px;color:#484848;left:118.19999999999999px;width:200px;text-align:center;word-spacing:0.6px;">RMB 12,448,486.00</div>
<div class="t" style="top:443.10px;line-height:12px;font-size:7.6px;color:#444;left:219.7px;width:200px;text-align:center;word-spacing:0.5px;">11.28</div>
<div class="t" style="top:443.70px;line-height:12px;font-size:7.6px;color:#444;left:284.6px;width:200px;text-align:center;word-spacing:0.5px;">理想</div>
<div class="t" style="top:443.10px;line-height:12px;font-size:7.6px;color:#444;left:349.79999999999995px;width:200px;text-align:center;word-spacing:0.5px;">D</div>
<div class="t" style="top:443.10px;line-height:12px;font-size:7.6px;color:#444;left:415.0px;width:200px;text-align:center;word-spacing:0.5px;">FL</div>
<div class="t" style="top:443.70px;line-height:12px;font-size:7.6px;color:#444;left:493.4000000000001px;width:200px;text-align:center;word-spacing:0.5px;">3 月 13 日</div>
</body></html>
